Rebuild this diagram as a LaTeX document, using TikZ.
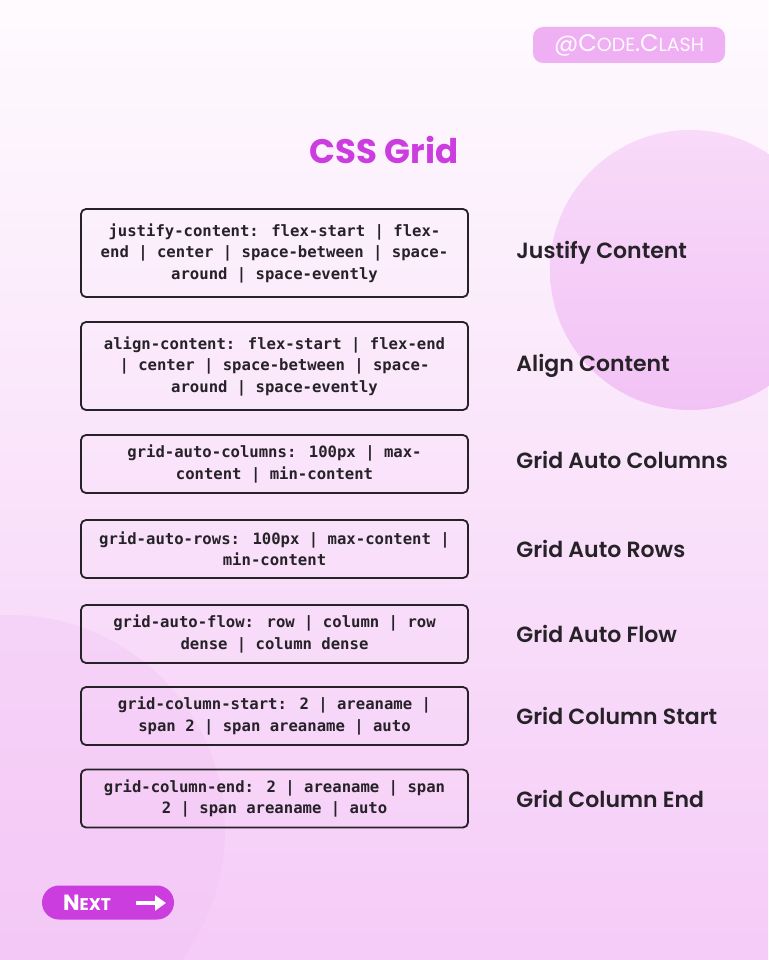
\documentclass[tikz,border=0pt]{standalone}
\usepackage{fontspec}
\setmainfont{Poppins}
\newfontfamily\codefont{DejaVu Sans Mono}
\newfontfamily\lblfont{Poppins SemiBold}
\usetikzlibrary{positioning, arrows.meta}

\definecolor{bgtop}{HTML}{FEFBFE}
\definecolor{bgmid}{HTML}{FCF1FC}
\definecolor{bgbot}{HTML}{F5CBF7}
\definecolor{blobtop}{HTML}{F8DAF9}
\definecolor{blobbot}{HTML}{F2C2F5}
\definecolor{grape}{HTML}{CC3DDF}
\definecolor{badgepink}{HTML}{EFB0F3}
\definecolor{ink}{HTML}{262228}

\begin{document}
\begin{tikzpicture}[x=1pt,y=-1pt,node distance=44pt,
        codebox/.style={draw=ink,line width=1.8pt,rounded corners=5pt,
          minimum width=387pt,minimum height=58pt,align=center,text=ink,
          font=\codefont\bfseries\fontsize{15.6}{21.5}\selectfont},
        tallbox/.style={codebox,minimum height=88pt},
        lbl/.style={anchor=west,text=ink,font=\lblfont\fontsize{22}{24}\selectfont},
        pill/.style={fill=grape,rounded corners=17pt,minimum width=132pt,minimum height=34pt}]
    \useasboundingbox (0,0) rectangle (768,960);
    % background and blobs
    \shade[top color=bgtop,middle color=bgmid,bottom color=bgbot] (0,0) rectangle (768,960);
    \fill[blobbot,opacity=0.35] (10,830) circle (215pt);
    \shade[top color=blobtop,bottom color=blobbot] (690,270) circle (140pt);

    % header
    \node[fill=badgepink,rounded corners=10pt,minimum width=192pt,minimum height=36pt,
          text=white!92!badgepink,font=\fontsize{24}{26}\selectfont]
          (badge) at (629,45) {@C{\fontsize{19}{22}\selectfont ODE}.C{\fontsize{19}{22}\selectfont LASH}};
    \node[text=grape,font=\bfseries\fontsize{34}{40}\selectfont] (title) at (384,150) {CSS Grid};

    % property boxes
    \node[tallbox] (jc)  at (274.5,253)   {justify-content: flex-start | flex-\\end | center | space-between | space-\\around | space-evently};
    \node[tallbox] (ac)  at (274.5,366)   {align-content: flex-start | flex-end\\| center | space-between | space-\\around | space-evently};
    \node[codebox] (gac) at (274.5,464)   {grid-auto-columns: 100px | max-\\content | min-content};
    \node[codebox] (gar) at (274.5,549)   {grid-auto-rows: 100px | max-content |\\min-content};
    \node[codebox] (gaf) at (274.5,634)   {grid-auto-flow: row | column | row\\dense | column dense};
    \node[codebox] (gcs) at (274.5,716)   {grid-column-start: 2 | areaname |\\span 2 | span areaname | auto};
    \node[codebox] (gce) at (274.5,798.5) {grid-column-end: 2 | areaname | span\\2 | span areaname | auto};

    % names
    \node[lbl] (jc-l)  [right=of jc]  {Justify Content};
    \node[lbl] (ac-l)  [right=of ac]  {Align Content};
    \node[lbl] (gac-l) [right=of gac, yshift=4pt] {Grid Auto Columns};
    \node[lbl] (gar-l) [right=of gar] {Grid Auto Rows};
    \node[lbl] (gaf-l) [right=of gaf] {Grid Auto Flow};
    \node[lbl] (gcs-l) [right=of gcs] {Grid Column Start};
    \node[lbl] (gce-l) [right=of gce] {Grid Column End};

    % next button
    \node[pill] (next) at (108,902.5) {};
    \node[text=white,font=\bfseries\fontsize{22}{24}\selectfont] (next-t) at (87,903)
          {N{\fontsize{17}{20}\selectfont EXT}};
    \coordinate (next-a) at (136,903);
    \coordinate (next-b) at (166,903);
    \draw[white,line width=3.2pt,-{Triangle[length=11pt,width=15pt]}] (next-a) -- (next-b);
\end{tikzpicture}
\end{document}
